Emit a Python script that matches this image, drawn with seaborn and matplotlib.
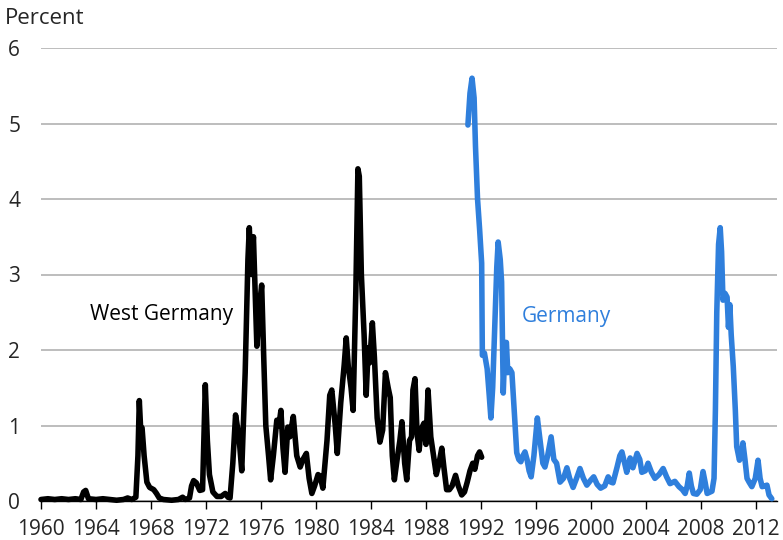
import pandas as pd
import matplotlib
matplotlib.use("Agg")
import matplotlib.pyplot as plt
import seaborn as sns

# West Germany, 1960-1992 (percent)
west_years = [
    1960.0, 1960.5, 1961.0, 1961.5, 1962.0, 1962.5, 1962.9, 1963.1, 1963.25, 1963.45,
    1964.0, 1964.5, 1965.0, 1965.5, 1966.0, 1966.3, 1966.6, 1966.9, 1967.05, 1967.15,
    1967.25, 1967.35, 1967.5, 1967.7, 1967.9, 1968.2, 1968.4, 1968.6, 1968.9, 1969.5,
    1970.0, 1970.3, 1970.5, 1970.8, 1970.95, 1971.1, 1971.3, 1971.55, 1971.75, 1971.95,
    1972.1, 1972.25, 1972.5, 1972.8, 1973.1, 1973.4, 1973.6, 1973.75, 1973.95, 1974.15,
    1974.4, 1974.6, 1974.85, 1975.05, 1975.15, 1975.3, 1975.45, 1975.7, 1975.9, 1976.05,
    1976.2, 1976.35, 1976.55, 1976.7, 1976.9, 1977.15, 1977.3, 1977.45, 1977.6, 1977.75,
    1977.95, 1978.1, 1978.35, 1978.6, 1978.85, 1979.05, 1979.3, 1979.5, 1979.7, 1979.9,
    1980.15, 1980.3, 1980.5, 1980.8, 1981.0, 1981.15, 1981.4, 1981.55, 1981.8, 1982.05,
    1982.2, 1982.35, 1982.55, 1982.7, 1982.9, 1983.05, 1983.15, 1983.3, 1983.5, 1983.65,
    1983.8, 1983.9, 1984.1, 1984.25, 1984.45, 1984.65, 1984.85, 1985.05, 1985.25, 1985.4,
    1985.55, 1985.7, 1985.9, 1986.1, 1986.25, 1986.45, 1986.6, 1986.8, 1986.95, 1987.05,
    1987.2, 1987.35, 1987.5, 1987.65, 1987.85, 1988.0, 1988.15, 1988.35, 1988.55, 1988.75,
    1988.95, 1989.15, 1989.3, 1989.5, 1989.7, 1989.9, 1990.15, 1990.35, 1990.6, 1990.8,
    1991.0, 1991.2, 1991.4, 1991.55, 1991.75, 1991.9, 1992.05,
]
west_values = [
    0.02, 0.03, 0.02, 0.03, 0.02, 0.03, 0.02, 0.12, 0.14, 0.03,
    0.02, 0.03, 0.02, 0.01, 0.02, 0.04, 0.02, 0.05, 0.6, 1.33,
    0.95, 0.97, 0.6, 0.25, 0.18, 0.15, 0.1, 0.04, 0.02, 0.01,
    0.02, 0.05, 0.02, 0.04, 0.2, 0.27, 0.24, 0.14, 0.15, 1.54,
    0.8, 0.35, 0.12, 0.06, 0.06, 0.1, 0.05, 0.04, 0.5, 1.14,
    0.85, 0.4, 1.7, 3.2, 3.62, 3.0, 3.5, 2.05, 2.6, 2.86,
    1.9, 1.0, 0.6, 0.28, 0.6, 1.07, 1.0, 1.2, 0.7, 0.38,
    0.98, 0.85, 1.12, 0.6, 0.45, 0.55, 0.63, 0.3, 0.1, 0.2,
    0.35, 0.33, 0.17, 0.8, 1.4, 1.47, 1.0, 0.63, 1.3, 1.8,
    2.16, 1.78, 1.5, 1.2, 2.8, 4.4, 4.3, 3.0, 2.2, 1.4,
    2.03, 1.83, 2.36, 1.9, 1.1, 0.78, 0.94, 1.7, 1.5, 1.37,
    0.6, 0.28, 0.55, 0.8, 1.05, 0.5, 0.28, 0.8, 0.85, 1.47,
    1.62, 0.9, 0.67, 0.95, 1.03, 0.75, 1.47, 0.85, 0.6, 0.35,
    0.5, 0.7, 0.45, 0.15, 0.15, 0.2, 0.34, 0.2, 0.08, 0.12,
    0.25, 0.4, 0.5, 0.42, 0.6, 0.65, 0.58,
]

# Germany, 1991-2013 (percent)
germany_years = [
    1991.05, 1991.2, 1991.35, 1991.5, 1991.6, 1991.75, 1991.9, 1992.05, 1992.1, 1992.25,
    1992.45, 1992.6, 1992.72, 1992.85, 1993.0, 1993.15, 1993.25, 1993.4, 1993.5, 1993.62,
    1993.75, 1993.85, 1993.95, 1994.1, 1994.25, 1994.45, 1994.6, 1994.75, 1994.9, 1995.05,
    1995.2, 1995.35, 1995.5, 1995.65, 1995.85, 1996.1, 1996.3, 1996.5, 1996.65, 1996.85,
    1997.1, 1997.3, 1997.5, 1997.75, 1998.0, 1998.25, 1998.45, 1998.7, 1998.95, 1999.2,
    1999.45, 1999.7, 2000.0, 2000.2, 2000.45, 2000.7, 2001.0, 2001.25, 2001.45, 2001.6,
    2001.9, 2002.1, 2002.25, 2002.45, 2002.6, 2002.85, 2003.05, 2003.35, 2003.55, 2003.7,
    2003.95, 2004.15, 2004.4, 2004.65, 2004.95, 2005.25, 2005.5, 2005.75, 2006.1, 2006.4,
    2006.65, 2006.85, 2007.0, 2007.15, 2007.3, 2007.45, 2007.7, 2007.95, 2008.15, 2008.3,
    2008.45, 2008.8, 2008.95, 2009.05, 2009.15, 2009.28, 2009.4, 2009.5, 2009.6, 2009.75,
    2009.9, 2010.0, 2010.1, 2010.2, 2010.35, 2010.5, 2010.6, 2010.8, 2010.95, 2011.05,
    2011.2, 2011.35, 2011.5, 2011.7, 2011.95, 2012.15, 2012.3, 2012.45, 2012.65, 2012.8,
    2012.95, 2013.15,
]
germany_values = [
    4.98, 5.4, 5.6, 5.34, 4.7, 4.0, 3.6, 3.15, 1.93, 1.96,
    1.75, 1.4, 1.1, 1.5, 2.3, 3.1, 3.43, 3.2, 2.9, 1.43,
    2.1, 2.1, 1.7, 1.75, 1.7, 1.1, 0.64, 0.55, 0.52, 0.6,
    0.65, 0.55, 0.4, 0.32, 0.6, 1.1, 0.8, 0.5, 0.45, 0.6,
    0.85, 0.55, 0.5, 0.25, 0.3, 0.44, 0.3, 0.18, 0.3, 0.43,
    0.3, 0.21, 0.28, 0.32, 0.22, 0.17, 0.2, 0.32, 0.25, 0.24,
    0.45, 0.6, 0.65, 0.5, 0.38, 0.57, 0.44, 0.63, 0.55, 0.38,
    0.4, 0.5, 0.38, 0.3, 0.35, 0.43, 0.32, 0.23, 0.26, 0.19,
    0.15, 0.1, 0.2, 0.37, 0.2, 0.1, 0.09, 0.15, 0.39, 0.25,
    0.1, 0.13, 0.3, 1.2, 2.5, 3.4, 3.62, 3.3, 2.66, 2.75,
    2.7, 2.3, 2.6, 2.2, 1.78, 1.2, 0.72, 0.54, 0.65, 0.77,
    0.55, 0.3, 0.25, 0.19, 0.3, 0.54, 0.3, 0.19, 0.2, 0.21,
    0.08, 0.03,
]

x_ticks = list(range(1960, 2013, 4))
y_ticks = [0, 1, 2, 3, 4, 5, 6]

BLACK = "#000000"
BLUE = "#2F7FDC"


def main():
    sns.set_style("white")
    plt.rcParams["font.family"] = ["Open Sans", "DejaVu Sans"]

    df = pd.concat([
        pd.DataFrame({"year": west_years, "value": west_values, "series": "West Germany"}),
        pd.DataFrame({"year": germany_years, "value": germany_values, "series": "Germany"}),
    ], ignore_index=True)

    fig = plt.figure(figsize=(7.83, 5.4), dpi=100)
    ax = fig.add_axes([41 / 783, 39 / 540, 736 / 783, 453 / 540])

    sns.lineplot(data=df, x="year", y="value", hue="series",
                 palette={"West Germany": BLACK, "Germany": BLUE},
                 sort=False, estimator=None, legend=False,
                 linewidth=4.0, ax=ax, zorder=3)
    for line in ax.lines:
        line.set_solid_joinstyle("round")
        line.set_solid_capstyle("round")
        line.set_clip_on(False)

    ax.set_xlim(1960, 2013.53)
    ax.set_ylim(0, 6)
    ax.set_xticks(x_ticks)
    ax.set_yticks(y_ticks)
    ax.set_xlabel("")
    ax.set_ylabel("")

    ax.yaxis.grid(True, color="#BDBDBD", linewidth=1.4)
    ax.xaxis.grid(False)
    for side in ["top", "right", "left"]:
        ax.spines[side].set_visible(False)
    ax.spines["bottom"].set_color("#000000")
    ax.spines["bottom"].set_linewidth(1.0)

    ax.tick_params(axis="x", direction="out", length=6, width=1, color="#000000",
                   labelsize=15, pad=7, bottom=True)
    ax.tick_params(axis="y", length=0, labelsize=15, pad=15)

    ax.text(1968.8, 2.47, "West Germany", color=BLACK, fontsize=15,
            ha="center", va="center")
    ax.text(1998.2, 2.45, "Germany", color=BLUE, fontsize=15,
            ha="center", va="center")

    fig.text(5 / 783, 1 - 18 / 540, "Percent", fontsize=16, ha="left", va="center")

    fig.savefig("out.png", dpi=100)
    plt.close(fig)


if __name__ == "__main__":
    main()
